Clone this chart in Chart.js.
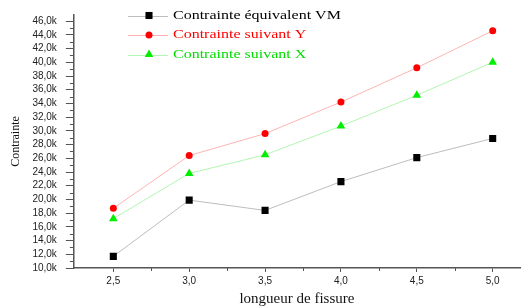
<!DOCTYPE html>
<html>
<head>
<meta charset="utf-8">
<script src="https://cdn.jsdelivr.net/npm/chart.js@4"></script>
<style>
  body { margin: 0; background: #fff; }
  #wrap { width: 527px; height: 308px; }
</style>
</head>
<body>
<div id="wrap"><canvas id="chart" width="527" height="308"></canvas></div>
<script>
// crack length (x) and stresses
const longueurs = [2.5, 3.0, 3.5, 4.0, 4.5, 5.0];
const contrainteVM = [11700, 19900, 18400, 22600, 26100, 28900];
const contrainteY = [18700, 26400, 29600, 34200, 39200, 44600];
const contrainteX = [17200, 23800, 26500, 30700, 35200, 40000];
const xTicks = [2.5, 3.0, 3.5, 4.0, 4.5, 5.0];
const yTicks = [10000, 12000, 14000, 16000, 18000, 20000, 22000, 24000, 26000, 28000,
  30000, 32000, 34000, 36000, 38000, 40000, 42000, 44000, 46000];
const legendColors = ['#000000', '#ff0000', '#00dd00'];

const toPoints = vals => vals.map((v, i) => ({ x: longueurs[i], y: v }));

// minor ticks + legend with a line through the marker
const extras = {
  id: 'extras',
  afterDraw(chart) {
    const c = chart.ctx;
    const xs = chart.scales.x, ys = chart.scales.y;
    c.save();
    c.strokeStyle = '#555';
    c.lineWidth = 1;
    c.beginPath();
    for (let v = 2.75; v < 5.2; v += 0.5) {
      const px = Math.round(xs.getPixelForValue(v)) + 0.5;
      c.moveTo(px, xs.top); c.lineTo(px, xs.top + 3);
    }
    for (let v = 11000; v < 47000; v += 2000) {
      const py = Math.round(ys.getPixelForValue(v)) + 0.5;
      c.moveTo(ys.right, py); c.lineTo(ys.right - 4, py);
    }
    c.stroke();

    chart.data.datasets.forEach((ds, i) => {
      const y = 15.5 + i * 19.5;
      const x0 = 128;
      c.strokeStyle = ds.borderColor;
      c.lineWidth = 1;
      c.beginPath(); c.moveTo(x0, Math.round(y) + 0.5); c.lineTo(x0 + 40, Math.round(y) + 0.5); c.stroke();
      c.fillStyle = ds.pointBackgroundColor;
      c.strokeStyle = ds.pointBackgroundColor;
      Chart.helpers.drawPoint(c, {
        pointStyle: ds.pointStyle, radius: ds.pointRadius, rotation: 0, borderWidth: 0
      }, x0 + 21, y);
      c.save();
      c.translate(x0 + 45, y);
      c.scale(1.23, 1);
      c.font = '13px "Liberation Serif", serif';
      c.textBaseline = 'middle';
      c.fillStyle = legendColors[i];
      c.fillText(ds.label, 0, 0);
      c.restore();
    });
    c.restore();
  }
};

new Chart(document.getElementById('chart'), {
  type: 'scatter',
  data: {
    datasets: [
      {
        label: 'Contrainte équivalent VM',
        data: toPoints(contrainteVM),
        showLine: true,
        borderColor: '#bdbdbd',
        borderWidth: 1,
        pointStyle: 'rect',
        pointRadius: 5,
        pointBackgroundColor: '#000000',
        pointBorderWidth: 0
      },
      {
        label: 'Contrainte suivant Y',
        data: toPoints(contrainteY),
        showLine: true,
        borderColor: '#ffb3b3',
        borderWidth: 1,
        pointStyle: 'circle',
        pointRadius: 3.5,
        pointBackgroundColor: '#ff0000',
        pointBorderWidth: 0
      },
      {
        label: 'Contrainte suivant X',
        data: toPoints(contrainteX),
        showLine: true,
        borderColor: '#b3f5b3',
        borderWidth: 1,
        pointStyle: 'triangle',
        pointRadius: 5,
        pointBackgroundColor: '#00ee00',
        pointBorderWidth: 0
      }
    ]
  },
  options: {
    responsive: false,
    animation: false,
    layout: { padding: { left: 9, right: 7, top: 7, bottom: 0 } },
    plugins: {
      legend: { display: false },
      tooltip: { enabled: false }
    },
    scales: {
      x: {
        type: 'linear',
        min: 2.24,
        max: 5.18,
        afterBuildTicks: s => { s.ticks = xTicks.map(v => ({ value: v })); },
        border: { color: '#555', width: 1.5 },
        grid: { drawOnChartArea: false, drawTicks: true, tickLength: 4, color: '#555' },
        ticks: {
          color: '#222',
          font: { family: '"Liberation Sans", Arial, sans-serif', size: 10 },
          padding: 3,
          maxRotation: 0,
          autoSkip: false,
          callback: v => v.toFixed(1).replace('.', ',')
        },
        title: {
          display: true,
          text: 'longueur de fissure',
          color: '#111',
          font: { family: '"Liberation Serif", serif', size: 15 },
          padding: { top: 0, bottom: 0 }
        }
      },
      y: {
        min: 10000,
        max: 46900,
        afterBuildTicks: s => { s.ticks = yTicks.map(v => ({ value: v })); },
        border: { color: '#555', width: 1.5 },
        grid: { drawOnChartArea: false, drawTicks: true, tickLength: 8, color: '#555' },
        ticks: {
          color: '#222',
          font: { family: '"Liberation Sans", Arial, sans-serif', size: 10 },
          padding: 9,
          autoSkip: false,
          callback: v => (v / 1000).toFixed(1).replace('.', ',') + 'k'
        },
        title: {
          display: true,
          text: 'Contrainte',
          color: '#111',
          font: { family: '"Liberation Serif", serif', size: 12 },
          padding: { top: 0, bottom: 0 }
        }
      }
    }
  },
  plugins: [extras]
});
</script>
</body>
</html>
